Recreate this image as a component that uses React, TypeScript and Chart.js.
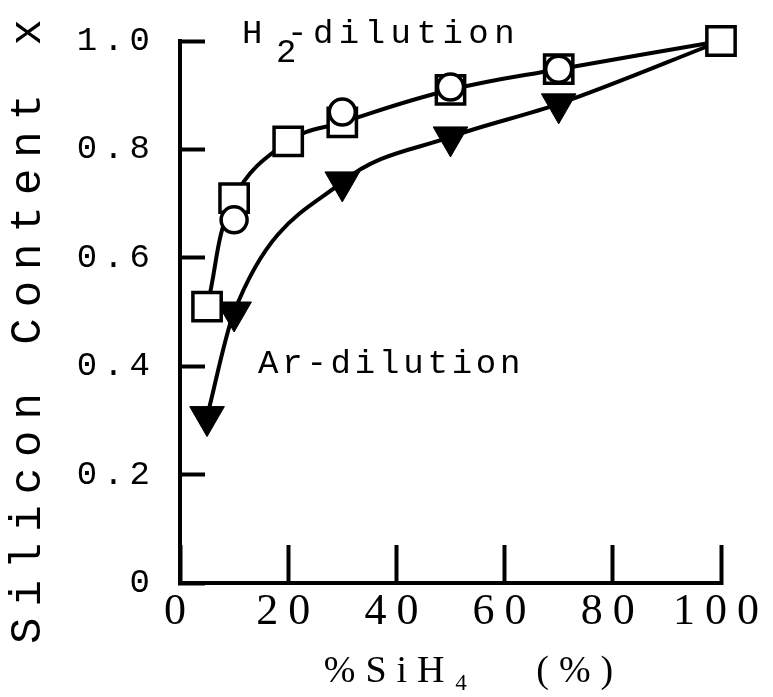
import { useEffect, useRef } from 'react';
import { Chart, registerables } from 'chart.js';

Chart.register(...registerables);

// ---- data ----
const h2X = [5, 10, 20, 30, 50, 70, 100];
const h2Squares = [0.51, 0.71, 0.815, 0.85, 0.91, 0.948, 1.0];
const circleX = [10, 30, 50, 70];
const h2Circles = [0.67, 0.869, 0.915, 0.948];
const arX = [5, 10, 30, 50, 70, 100];
const arTriangles = [0.307, 0.5, 0.74, 0.823, 0.884, 1.0];
const arMarkerShown = [true, true, true, true, true, false];

const xTitle = '%SiH\u2084   (%)';
const yTitle = 'Silicon Content x';
const h2LabelMain = 'H';
const h2LabelSub = '2';
const h2LabelRest = '-dilution';
const arLabel = 'Ar-dilution';

const toPoints = (xs: number[], ys: number[]) => xs.map((x, i) => ({ x, y: ys[i] }));

const spacingPlugin = {
  id: 'letterSpacing',
  beforeDraw(chart: any) {
    const ctx = chart.ctx;
    const patch = (scale: any, labelSp: string, titleSp: string, dx: number, dy: number) => {
      if (!scale || scale.__patched) return;
      scale.__patched = true;
      const dl = scale.drawLabels.bind(scale);
      scale.drawLabels = (area: any) => {
        ctx.save();
        ctx.letterSpacing = labelSp;
        dl(area);
        ctx.restore();
      };
      const dt = scale.drawTitle.bind(scale);
      scale.drawTitle = () => {
        ctx.save();
        ctx.letterSpacing = titleSp;
        ctx.translate(dx, dy);
        dt();
        ctx.restore();
      };
    };
    patch(chart.scales.x, '10px', '10px', 23, 0);
    patch(chart.scales.y, '6px', '11px', 2, 14);
  },
};

const textPlugin = {
  id: 'curveLabels',
  afterDatasetsDraw(chart: any) {
    const ctx = chart.ctx;
    ctx.save();
    ctx.fillStyle = '#000';
    ctx.textAlign = 'left';
    ctx.textBaseline = 'alphabetic';
    ctx.font = '34px "Liberation Mono", monospace';
    ctx.letterSpacing = '5.5px';
    ctx.fillText(h2LabelMain, 242, 43);
    ctx.fillText(h2LabelSub, 276, 62);
    ctx.fillText(h2LabelRest, 287, 43);
    ctx.letterSpacing = '3.8px';
    ctx.fillText(arLabel, 258, 373);
    ctx.restore();
  },
};

export default function App() {
  const ref = useRef<HTMLCanvasElement>(null);

  useEffect(() => {
    if (!ref.current) return;
    Chart.defaults.color = '#000';
    const chart = new Chart(ref.current, {
      type: 'line',
      data: {
        datasets: [
          {
            label: 'H2 circles',
            data: toPoints(circleX, h2Circles),
            showLine: false,
            pointStyle: 'circle',
            pointRadius: 13,
            pointBorderWidth: 3.5,
            pointBackgroundColor: '#fff',
            pointBorderColor: '#000',
            borderColor: '#000',
            order: 0,
            clip: false,
          },
          {
            label: 'H2-dilution',
            data: toPoints(h2X, h2Squares),
            borderColor: '#000',
            borderWidth: 4,
            tension: 0.4,
            pointStyle: 'rect',
            pointRadius: 20,
            pointBorderWidth: 3.5,
            pointBackgroundColor: '#fff',
            pointBorderColor: '#000',
            order: 1,
            clip: false,
          },
          {
            label: 'Ar-dilution',
            data: toPoints(arX, arTriangles),
            borderColor: '#000',
            borderWidth: 4,
            cubicInterpolationMode: 'monotone',
            pointStyle: 'triangle',
            pointRotation: 180,
            pointRadius: arMarkerShown.map((s) => (s ? 20 : 0)),
            pointBorderWidth: 1,
            pointBackgroundColor: '#000',
            pointBorderColor: '#000',
            order: 2,
            clip: false,
          },
        ],
      },
      options: {
        responsive: false,
        animation: false,
        events: [],
        layout: { padding: { top: 41, right: 52, left: 0, bottom: 0 } },
        plugins: {
          legend: { display: false },
          tooltip: { enabled: false },
          title: { display: false },
        },
        scales: {
          x: {
            type: 'linear',
            min: 0,
            max: 100,
            afterFit: (scale: any) => {
              scale.height = 114;
              scale.paddingLeft = 0;
              scale.paddingRight = 0;
            },
            border: { display: true, width: 4, color: '#000' },
            grid: {
              display: true,
              drawOnChartArea: false,
              drawTicks: true,
              tickLength: -38,
              tickWidth: 4,
              tickColor: '#000',
            },
            ticks: {
              stepSize: 20,
              autoSkip: false,
              maxRotation: 0,
              padding: 41,
              color: '#000',
              font: { family: '"Liberation Serif", serif', size: 44 },
            },
            title: {
              display: true,
              text: xTitle,
              color: '#000',
              padding: { top: 0, bottom: 2 },
              font: { family: '"Liberation Serif", serif', size: 38 },
            },
          },
          y: {
            type: 'linear',
            min: 0,
            max: 1,
            afterFit: (scale: any) => {
              scale.width = 180;
              scale.paddingTop = 0;
              scale.paddingBottom = 0;
            },
            border: { display: true, width: 4, color: '#000' },
            grid: {
              display: true,
              drawOnChartArea: false,
              drawTicks: true,
              tickLength: -25,
              tickWidth: 4,
              tickColor: '#000',
            },
            ticks: {
              stepSize: 0.2,
              autoSkip: false,
              padding: 49,
              color: '#000',
              font: { family: '"Liberation Mono", monospace', size: 34 },
              callback: (v: any) => (Number(v) === 0 ? '0' : Number(v).toFixed(1)),
            },
            title: {
              display: true,
              text: yTitle,
              color: '#000',
              padding: { top: 0, bottom: 0 },
              font: { family: '"Liberation Mono", monospace', size: 44 },
            },
          },
        },
      },
      plugins: [spacingPlugin, textPlugin],
    } as any);
    return () => chart.destroy();
  }, []);

  return (
    <div style={{ position: 'fixed', left: 0, top: 0, width: 773, height: 697, background: '#fff' }}>
      <canvas ref={ref} width={773} height={697} style={{ display: 'block', width: 773, height: 697 }} />
    </div>
  );
}
